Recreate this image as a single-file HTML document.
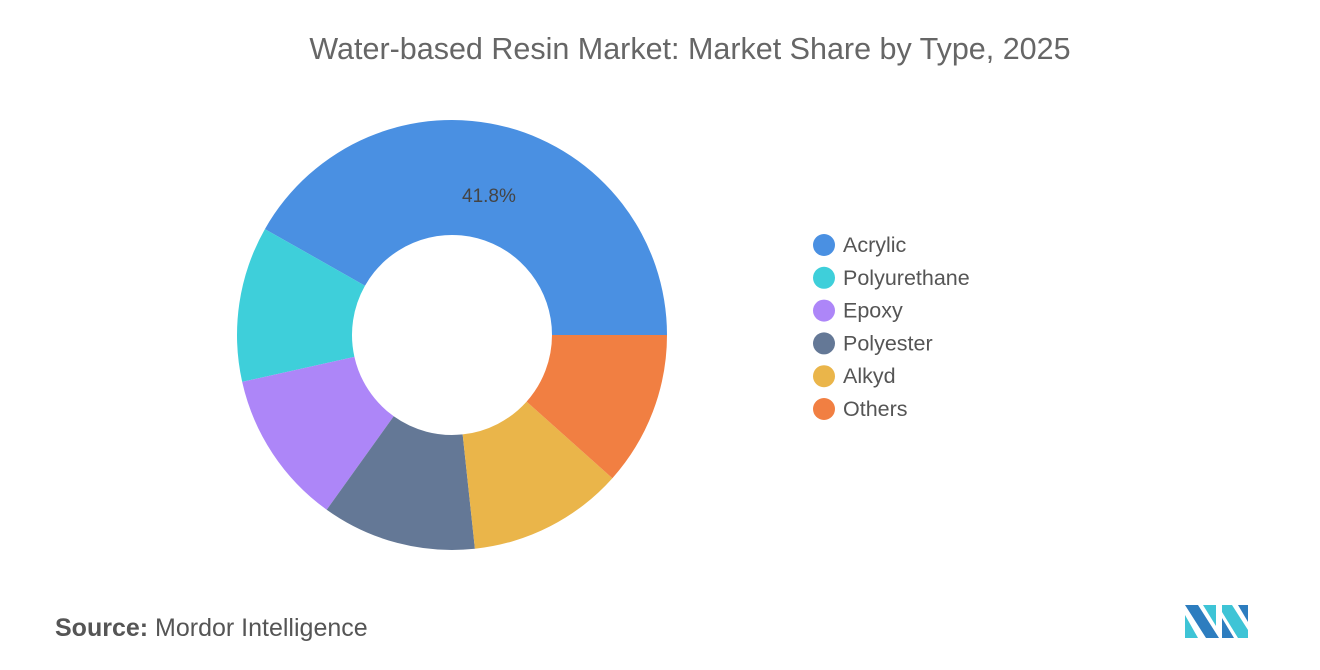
<!DOCTYPE html>
<html><head><meta charset="utf-8"><style>
body{margin:0;background:#fff;width:1320px;height:665px;overflow:hidden;font-family:"Liberation Sans",sans-serif;}
</style></head><body>
<svg width="1320" height="665">
<text x="690" y="59" text-anchor="middle" font-size="30.5" fill="#666">Water-based Resin Market: Market Share by Type, 2025</text>
<g id="donut"></g>
<g id="legend"></g>
<text x="55" y="636" font-size="25" fill="#555"><tspan font-weight="bold">Source:</tspan> Mordor Intelligence</text>
<g>
<polygon points="1185,605 1198,605 1219,638 1206,638" fill="#2d7dbf"/>
<polygon points="1185,615 1198,638 1185,638" fill="#3ec4d6"/>
<polygon points="1203,605 1216,605 1216,626" fill="#3ec4d6"/>
<polygon points="1222,605 1232,605 1248,630 1248,638 1238,638 1222,612" fill="#3ec4d6"/>
<polygon points="1222,618 1234,638 1222,638" fill="#2d7dbf"/>
<polygon points="1238,605 1248,605 1248,622" fill="#2d7dbf"/>
</g>
</svg>
<script>
const categories=["Acrylic","Polyurethane","Epoxy","Polyester","Alkyd","Others"];
const values=[41.8,11.7,11.6,11.6,11.7,11.6];
const colors=["#4a90e2","#3ecfda","#ad86f8","#647896","#eab54a","#f17f42"];
const labels=["41.8%"];
const NS="http://www.w3.org/2000/svg";
const cx=452,cy=335,R=215,r=100;
const total=values.reduce((a,b)=>a+b,0);
const g=document.getElementById('donut');
let a0=0;
function pt(rad,a){return [cx+rad*Math.cos(a),cy-rad*Math.sin(a)];}
values.forEach((v,i)=>{
  const a1=a0+v/total*2*Math.PI;
  const [x1,y1]=pt(R,a0),[x2,y2]=pt(R,a1),[x3,y3]=pt(r,a1),[x4,y4]=pt(r,a0);
  const lg=(a1-a0)>Math.PI?1:0;
  const p=document.createElementNS(NS,'path');
  p.setAttribute('d',`M${x1},${y1}A${R},${R} 0 ${lg} 0 ${x2},${y2}L${x3},${y3}A${r},${r} 0 ${lg} 1 ${x4},${y4}Z`);
  p.setAttribute('fill',colors[i]);
  
  
  g.appendChild(p);
  if(labels[i]){
    const am=(a0+a1)/2;const [lx,ly]=pt(145,am);
    const t=document.createElementNS(NS,'text');
    t.setAttribute('x',lx);t.setAttribute('y',ly+7);t.setAttribute('text-anchor','middle');
    t.setAttribute('font-size','19');t.setAttribute('fill','#444');t.textContent=labels[i];
    
    
    g.appendChild(t);
  }
  a0=a1;
});
const lg=document.getElementById('legend');
categories.forEach((c,i)=>{
  const y=245+i*32.8;
  const e=document.createElementNS(NS,'g');
  
  
  const ci=document.createElementNS(NS,'circle');
  ci.setAttribute('cx',824);ci.setAttribute('cy',y);ci.setAttribute('r',11);ci.setAttribute('fill',colors[i]);
  const t=document.createElementNS(NS,'text');
  t.setAttribute('x',843);t.setAttribute('y',y+7);t.setAttribute('font-size','21.5');t.setAttribute('fill','#555');t.textContent=c;
  e.appendChild(ci);e.appendChild(t);lg.appendChild(e);
});
</script>
</body></html>
